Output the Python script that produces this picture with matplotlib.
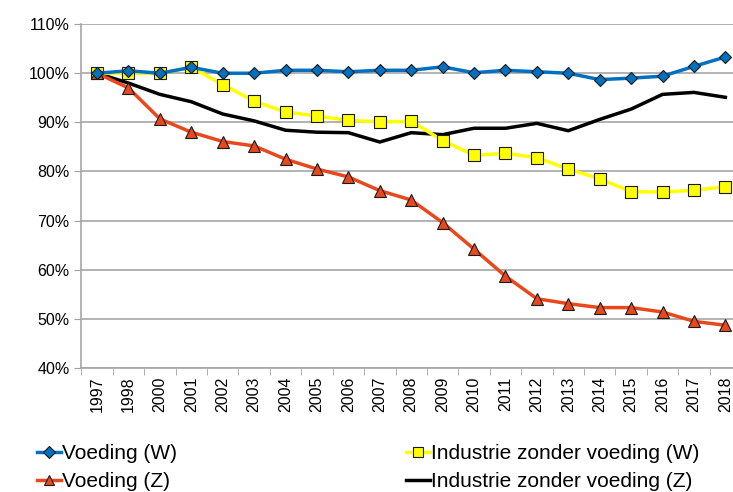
import matplotlib
matplotlib.use("Agg")
import matplotlib.pyplot as plt
from matplotlib.ticker import FuncFormatter, FixedLocator
from matplotlib.lines import Line2D

plt.rcParams['font.family'] = ['Liberation Sans', 'DejaVu Sans']

jaren = ['1997', '1998', '2000', '2001', '2002', '2003', '2004', '2005', '2006', '2007', '2008',
         '2009', '2010', '2011', '2012', '2013', '2014', '2015', '2016', '2017', '2018']

voeding_w = [100, 100.5, 100, 101.2, 100, 100, 100.6, 100.6, 100.3, 100.6, 100.6,
             101.3, 100.1, 100.6, 100.3, 100, 98.7, 99.0, 99.4, 101.4, 103.3]
industrie_w = [100, 100, 100, 101.2, 97.7, 94.3, 92.1, 91.3, 90.4, 90.1, 90.2,
               86.3, 83.3, 83.7, 82.8, 80.5, 78.5, 75.9, 75.8, 76.2, 76.9]
voeding_z = [100, 97.0, 90.7, 88.0, 86.1, 85.2, 82.5, 80.5, 78.9, 76.1, 74.2,
             69.6, 64.2, 58.7, 54.1, 53.1, 52.3, 52.3, 51.4, 49.5, 48.7]
industrie_z = [100, 98.0, 95.7, 94.2, 91.7, 90.3, 88.4, 88.0, 87.9, 86.0, 87.9,
               87.5, 88.8, 88.8, 89.8, 88.3, 90.6, 92.7, 95.7, 96.1, 95.1]

x = list(range(len(jaren)))

fig = plt.figure(figsize=(7.33, 4.92), dpi=100)
ax = fig.add_axes([0.111, 0.252, 0.9, 0.699])

ax.plot(x, voeding_w, color='#0070C0', lw=2.5, marker='D', ms=6.5,
        mfc='#0070C0', mec='#1a1a1a', mew=0.8, zorder=5)
ax.plot(x, industrie_w, color='#FFFF00', lw=2.5, marker='s', ms=8,
        mfc='#FFFF00', mec='#1a1a1a', mew=0.8, zorder=4)
ax.plot(x, voeding_z, color='#E8481C', lw=2.5, marker='^', ms=8,
        mfc='#E8481C', mec='#1a1a1a', mew=0.8, zorder=4)
ax.plot(x, industrie_z, color='black', lw=2.5, zorder=3)

ax.set_ylim(40, 110)
ax.set_yticks(range(40, 111, 10))
ax.yaxis.set_major_formatter(FuncFormatter(lambda v, p: '%d%%' % v))
ax.set_xlim(-0.5, len(jaren) - 0.5)
ax.set_xticks(x)
ax.set_xticklabels(jaren, rotation=90)
ax.xaxis.set_minor_locator(FixedLocator([i - 0.5 for i in range(len(jaren) + 1)]))
ax.tick_params(axis='x', which='major', length=0, pad=6, labelsize=11.5)
ax.tick_params(axis='x', which='minor', length=5, color='#a0a0a0')
ax.tick_params(axis='y', length=5, color='#a0a0a0', labelsize=11.5)

ax.grid(axis='y', color='#a6a6a6', lw=1.2)
ax.set_axisbelow(True)
for s in ['top', 'right']:
    ax.spines[s].set_visible(False)
for s in ['left', 'bottom']:
    ax.spines[s].set_color('#a6a6a6')
    ax.spines[s].set_linewidth(1.2)

h_vw = Line2D([], [], color='#0070C0', lw=2.5, marker='D', ms=6, mfc='#0070C0', mec='#1a1a1a', mew=0.8)
h_vz = Line2D([], [], color='#E8481C', lw=2.5, marker='^', ms=7, mfc='#E8481C', mec='#1a1a1a', mew=0.8)
h_iw = Line2D([], [], color='#FFFF00', lw=2.5, marker='s', ms=6.5, mfc='#FFFF00', mec='#1a1a1a', mew=0.8)
h_iz = Line2D([], [], color='black', lw=2.5)

opts = dict(loc='center left', frameon=False, fontsize=15, handlelength=1.15,
            handletextpad=0.05, labelspacing=0.45, borderpad=0, borderaxespad=0)
leg1 = fig.legend([h_vw, h_vz], ['Voeding (W)', 'Voeding (Z)'],
                  bbox_to_anchor=(37 / 733, 1 - 467.5 / 492), **opts)
fig.legend([h_iw, h_iz], ['Industrie zonder voeding (W)', 'Industrie zonder voeding (Z)'],
           bbox_to_anchor=(406 / 733, 1 - 467.5 / 492), **opts)

fig.savefig('out.png', dpi=100)
